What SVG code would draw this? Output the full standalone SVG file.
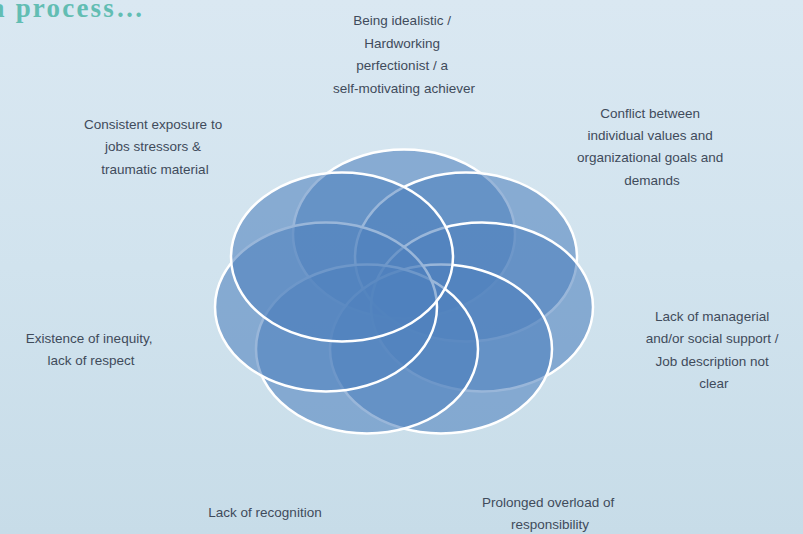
<svg xmlns="http://www.w3.org/2000/svg" width="803" height="534" viewBox="0 0 803 534">
  <defs>
    <linearGradient id="bg" x1="0" y1="0" x2="0" y2="1">
      <stop offset="0" stop-color="#dae8f2"/>
      <stop offset="0.5" stop-color="#d1e3ee"/>
      <stop offset="1" stop-color="#c7dce8"/>
    </linearGradient>
  </defs>
  <style>
    .petal { fill: #4f81bd; fill-opacity: 0.58; stroke: #ffffff; stroke-width: 2.5; }
    .label { font-family: "Liberation Sans", "Open Sans", Arial, sans-serif; font-size: 13.5px; fill: #3f4b5b; text-anchor: middle; }
    .title { font-family: "Liberation Serif", "Times New Roman", serif; font-size: 27px; font-weight: bold; fill: #62bdb3; }
  </style>

  <!-- backdrop -->
  <rect x="0" y="0" width="803" height="534" fill="url(#bg)"/>

  <!-- slide heading, running off the left edge -->
  <text class="title" x="-9" y="17" textLength="152" lengthAdjust="spacing">a process…</text>

  <!-- radial venn: seven overlapping ellipses, drawn clockwise from the top -->
  <g id="node-idealistic">
    <ellipse class="petal" cx="404" cy="234" rx="111" ry="84.5"/>
    <text class="label">
      <tspan x="404" y="25">Being idealistic /</tspan>
      <tspan x="404" y="47.5">Hardworking</tspan>
      <tspan x="404" y="70">perfectionist / a</tspan>
      <tspan x="404" y="92.5">self-motivating achiever</tspan>
    </text>
  </g>

  <g id="node-conflict">
    <ellipse class="petal" cx="466" cy="257" rx="111" ry="84.5"/>
    <text class="label">
      <tspan x="652" y="117.5">Conflict between</tspan>
      <tspan x="652" y="139.5">individual values and</tspan>
      <tspan x="652" y="162">organizational goals and</tspan>
      <tspan x="652" y="184.5">demands</tspan>
    </text>
  </g>

  <g id="node-support">
    <ellipse class="petal" cx="482" cy="307" rx="111" ry="84.5"/>
    <text class="label">
      <tspan x="714" y="321">Lack of managerial</tspan>
      <tspan x="714" y="343">and/or social support /</tspan>
      <tspan x="714" y="365.5">Job description not</tspan>
      <tspan x="714" y="388">clear</tspan>
    </text>
  </g>

  <g id="node-overload">
    <ellipse class="petal" cx="441" cy="349" rx="111" ry="84.5"/>
    <text class="label">
      <tspan x="550" y="507">Prolonged overload of</tspan>
      <tspan x="550" y="529">responsibility</tspan>
    </text>
  </g>

  <g id="node-recognition">
    <ellipse class="petal" cx="367" cy="349" rx="111" ry="84.5"/>
    <text class="label" x="265" y="517">Lack of recognition</text>
  </g>

  <g id="node-inequity">
    <ellipse class="petal" cx="326" cy="307" rx="111" ry="84.5"/>
    <text class="label">
      <tspan x="91" y="343">Existence of inequity,</tspan>
      <tspan x="91" y="365">lack of respect</tspan>
    </text>
  </g>

  <g id="node-exposure">
    <ellipse class="petal" cx="342" cy="257" rx="111" ry="84.5"/>
    <text class="label">
      <tspan x="155" y="128.5">Consistent exposure to</tspan>
      <tspan x="155" y="151">jobs stressors &amp;</tspan>
      <tspan x="155" y="173.5">traumatic material</tspan>
    </text>
  </g>
</svg>
